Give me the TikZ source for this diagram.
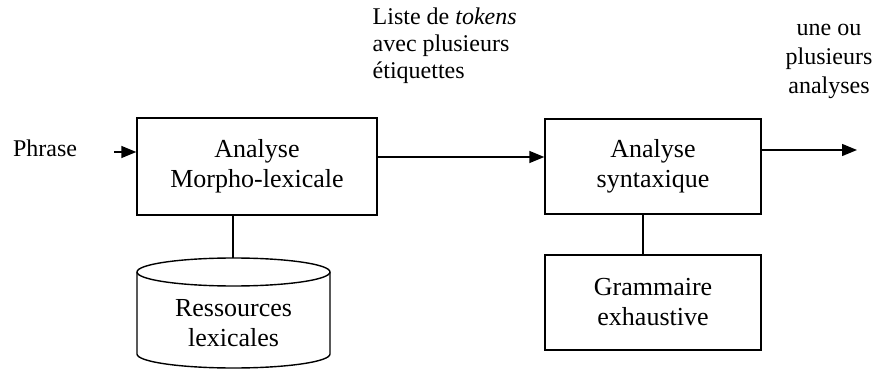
\documentclass[tikz,border=0pt]{standalone}
\usepackage{fontspec}
\setmainfont{Liberation Serif}
\usetikzlibrary{arrows.meta}

\begin{document}
\begin{tikzpicture}[
      x=0.5pt, y=0.5pt,
      line width=0.7pt,
      box/.style={draw, align=center, inner sep=2pt,
                  font=\fontsize{13}{15}\selectfont},
      lbl/.style={inner sep=0pt, font=\fontsize{12}{13.5}\selectfont},
      >={Triangle[length=7.5pt, width=6pt]}]
    \useasboundingbox (0,0) rectangle (881,369);
    % the two processing steps and the grammar
    \node[box, minimum width=120pt, minimum height=48.5pt] (morpho) at (257,202.5) {Analyse\\ Morpho-lexicale};
    \node[box, minimum width=108pt, minimum height=47.5pt] (synt)   at (653,202.5) {Analyse\\ syntaxique};
    \node[box, minimum width=108pt, minimum height=47.5pt] (gram)   at (653,66.5)  {Grammaire\\ exhaustive};
    % lexical resources drawn as a cylinder
    \draw (137,97) -- (137,15) arc[start angle=180, end angle=360, x radius=96.5, y radius=14] -- (330,97);
    \draw (233.5,97) ellipse [x radius=96.5, y radius=14];
    \coordinate (restop) at (233,111);
    \node[lbl, font=\fontsize{13}{15}\selectfont, align=center] (res) at (233.5,46) {Ressources\\ lexicales};
    % texts around the flow
    \node[lbl] (phrase) at (45,221) {Phrase};
    \node[lbl, anchor=west, align=left] (tok) at (372,323) {Liste de \textit{tokens}\\ avec plusieurs\\ étiquettes};
    \node[lbl, align=center, font=\fontsize{12}{14.5}\selectfont] (res2) at (829,308) {une ou\\ plusieurs\\ analyses};
    \coordinate (in)  at (114,217);
    \coordinate (out) at (857,219);
    % connectors
    \draw[->] (in) -- (in -| morpho.west);
    \draw[->] ([yshift=4.75pt]morpho.east) -- ([yshift=4.75pt]synt.west);
    \draw[->] (out -| synt.east) -- (out);
    \draw (restop |- morpho.south) -- (restop);
    \draw ([xshift=-5pt]synt.south) -- ([xshift=-5pt]gram.north);
\end{tikzpicture}
\end{document}
